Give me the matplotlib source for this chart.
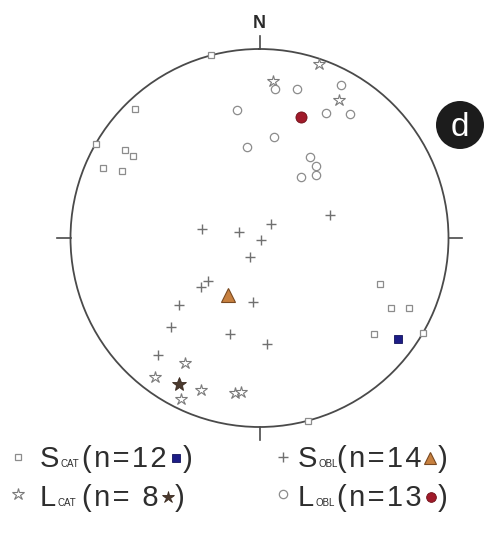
import numpy as np
import matplotlib
matplotlib.use("Agg")
import matplotlib.pyplot as plt
from matplotlib.lines import Line2D
from matplotlib.patches import Circle

plt.rcParams["font.family"] = ["Liberation Sans", "DejaVu Sans"]

# Lower-hemisphere orientations: (trend, plunge) in degrees
scat_trend = [345, 316, 300, 303, 303, 294, 296, 111, 118, 115, 130, 120, 165]
scat_plunge = [0, 6, 0, 16, 21, 10, 20, 32, 22, 14, 22, 0, 0]
scat_mean = (126, 10)

lcat_trend = [19, 5, 30, 211, 217, 206, 201, 189, 187]
lcat_plunge = [3, 18, 17, 24, 9, 6, 15, 18, 19]
lcat_mean = (209, 13)

sobl_trend = [279, 287, 40, 153, 208, 230, 230, 186, 230, 225, 197, 176, 72, 221]
sobl_plunge = [65, 81, 82, 89, 81, 57, 61, 62, 44, 34, 46, 43, 58, 19]
sobl_mean = (209, 62)

lobl_trend = [6, 14, 28, 28, 36, 8, 350, 352, 32, 38, 42, 34]
lobl_plunge = [22, 20, 9, 26, 20, 45, 32, 50, 48, 50, 53, 58]
lobl_mean = (19, 33)

legend_counts = ["(n=12", "(n= 8", "(n=14", "(n=13"]

W, H = 485, 541
fig = plt.figure(figsize=(W / 100, H / 100), dpi=100)


def fx(x):
    return x / W


def fy(y):
    return 1 - y / H


def schmidt(trend, plunge):
    """Equal-area (Schmidt) projection: polar angle and radius."""
    t = np.radians(np.asarray(trend, float))
    colat = np.radians(90 - np.asarray(plunge, float))
    return t, np.sqrt(2) * np.sin(colat / 2)


cx, cy, R = 259.5, 238, 189
ax = fig.add_axes([fx(cx - R), fy(cy + R), 2 * R / W, 2 * R / H], projection="polar")
ax.set_theta_zero_location("N")
ax.set_theta_direction(-1)
ax.set_ylim(0, 1)
ax.grid(False)
ax.set_xticks([])
ax.set_yticks([])
ax.spines["polar"].set_color("#4a4a4a")
ax.spines["polar"].set_linewidth(1.3)
ax.patch.set_alpha(0)

# cardinal ticks
for ang in [0, 90, 180, 270]:
    ax.plot([np.radians(ang)] * 2, [1.0, 1.07], color="#4a4a4a", lw=1.2, clip_on=False)
ax.text(0, 1.135, "N", ha="center", va="center", fontsize=13, fontweight="bold",
        color="#2a2a2a", clip_on=False)

grey = "#8c8c8c"
th, r = schmidt(scat_trend, scat_plunge)
ax.plot(th, r, ls="none", marker="s", ms=4.2, mfc="white", mec=grey, mew=0.9, clip_on=False, zorder=3)
th, r = schmidt(lcat_trend, lcat_plunge)
ax.plot(th, r, ls="none", marker="*", ms=9, mfc="white", mec="#7a7a7a", mew=0.8, clip_on=False, zorder=3)
th, r = schmidt(sobl_trend, sobl_plunge)
ax.plot(th, r, ls="none", marker="+", ms=6.5, mec="#707070", mew=1.0, clip_on=False, zorder=3)
th, r = schmidt(lobl_trend, lobl_plunge)
ax.plot(th, r, ls="none", marker="o", ms=6, mfc="white", mec=grey, mew=0.9, clip_on=False, zorder=3)

# mean orientations
mean_styles = [
    (scat_mean, dict(marker="s", ms=6, mfc="#1d1d86", mec="#12125a", mew=0.6)),
    (lcat_mean, dict(marker="*", ms=10, mfc="#4b3a2e", mec="#3a2a20", mew=0.6)),
    (sobl_mean, dict(marker="^", ms=10, mfc="#c7803f", mec="#7a4a22", mew=0.8)),
    (lobl_mean, dict(marker="o", ms=8, mfc="#a01a2a", mec="#6e1018", mew=0.6)),
]
for (t, p), st in mean_styles:
    th, r = schmidt([t], [p])
    ax.plot(th, r, ls="none", zorder=5, clip_on=False, **st)

# panel badge
badge = Circle((460 / 100, (H - 125) / 100), 24 / 100, transform=fig.dpi_scale_trans,
               facecolor="#1c1c1c", edgecolor="none")
fig.patches.append(badge)
fig.text(fx(460), fy(127), "d", ha="center", va="center", fontsize=24, color="white")

# legend
fig.canvas.draw()
rend = fig.canvas.get_renderer()
txt_color = "#2e2e2e"
HAIR = "\u200a"
rows = [
    (18, 40, 82, 467, 457, "S", "CAT", legend_counts[0],
     dict(marker="s", ms=4.2, mfc="white", mec=grey, mew=0.9), mean_styles[0][1], 6),
    (18, 40, 82, 506, 494, "L", "CAT", legend_counts[1],
     dict(marker="*", ms=9, mfc="white", mec="#7a7a7a", mew=0.8), mean_styles[1][1], 9),
    (283, 298, 337, 467, 457, "S", "OBL", legend_counts[2],
     dict(marker="+", ms=6.5, mec="#707070", mew=1.0), mean_styles[2][1], 8),
    (283, 298, 337, 506, 494, "L", "OBL", legend_counts[3],
     dict(marker="o", ms=6, mfc="white", mec=grey, mew=0.9), mean_styles[3][1], 7),
]
for ix, lx, px_, base, iy, letter, sub, count, icon, mean_st, mean_ms in rows:
    fig.add_artist(Line2D([fx(ix)], [fy(iy)], transform=fig.transFigure, ls="none", **icon))
    t1 = fig.text(fx(lx), fy(base), letter, fontsize=21, va="baseline", color=txt_color)
    bb = t1.get_window_extent(rend)
    fig.text(bb.x1 / W + 1 / W, fy(base), sub, fontsize=7, va="baseline", color=txt_color)
    spaced = HAIR.join(count)
    t3 = fig.text(fx(px_), fy(base), spaced, fontsize=21, va="baseline", color=txt_color)
    bb = t3.get_window_extent(rend)
    mx = bb.x1 + 9
    st = dict(mean_st)
    st["ms"] = mean_ms
    fig.add_artist(Line2D([fx(mx)], [fy(base - 9)], transform=fig.transFigure, ls="none", **st))
    fig.text(fx(mx + 7), fy(base), ")", fontsize=21, va="baseline", color=txt_color)

fig.savefig("out.png", dpi=100)
